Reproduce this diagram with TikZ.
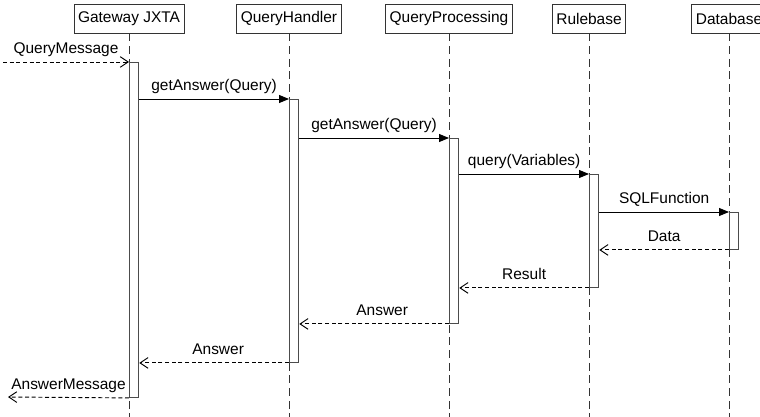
\documentclass[tikz,border=0pt]{standalone}
\usepackage{fontspec}
\setmainfont{Liberation Sans}
\usetikzlibrary{arrows.meta}
\begin{document}
\begin{tikzpicture}[x=0.75pt,y=-0.75pt,line width=0.7pt,font=\fontsize{11.6}{13}\selectfont,
 obj/.style={draw=black!80,fill=white,minimum height=21.75pt,inner xsep=3pt},
 life/.style={dash pattern=on 6pt off 3.5pt,black!80},
 act/.style={draw=black!70,fill=white,minimum width=7pt,minimum height=#1*0.75pt,inner sep=0pt,anchor=north west},
 call/.style={-{Triangle[length=7.5pt,width=6pt]}},
 ret/.style={dash pattern=on 3pt off 2pt,-{Straight Barb[length=6pt,width=8pt]}},
 lbl/.style={above=6pt,inner sep=0pt,text depth=0pt}]
 \useasboundingbox (0,0) rectangle (760,417);
 % objects and lifelines
 \node[obj] (gw) at (129,18.5) {Gateway JXTA};
 \node[obj] (qh) at (289,18.5) {QueryHandler};
 \node[obj] (qp) at (449,18.5) {QueryProcessing};
 \node[obj] (rb) at (589,18.5) {Rulebase};
 \node[obj] (db) at (729,18.5) {Database};
 \foreach \o in {gw,qh,qp,rb,db}
  \draw[life] (\o.south) -- (\o.south |- 0,417);
 % activations
 \node[act=335] (gwbar) at (129,62) {};
 \node[act=263] (qhbar) at (289,99) {};
 \node[act=185] (qpbar) at (449,138) {};
 \node[act=113] (rbbar) at (589,174) {};
 \node[act=37] (dbbar) at (729,212) {};
 % messages
 \coordinate (qmin) at (3,62);
 \coordinate (amout) at (8,397);
 \draw[ret] (qmin) -- node[lbl]{QueryMessage} (gwbar.north west);
 \draw[call] (gwbar.east |- qhbar.north) -- node[lbl]{getAnswer(Query)} (qhbar.north west);
 \draw[call] (qhbar.east |- qpbar.north) -- node[lbl]{getAnswer(Query)} (qpbar.north west);
 \draw[call] (qpbar.east |- rbbar.north) -- node[lbl]{query(Variables)} (rbbar.north west);
 \draw[call] (rbbar.east |- dbbar.north) -- node[lbl]{SQLFunction} (dbbar.north west);
 \draw[ret] (dbbar.south west) -- node[lbl]{Data} (rbbar.east |- dbbar.south);
 \draw[ret] (rbbar.south west) -- node[lbl]{Result} (qpbar.east |- rbbar.south);
 \draw[ret] (qpbar.south west) -- node[lbl,xshift=6pt]{Answer} (qhbar.east |- qpbar.south);
 \draw[ret] (qhbar.south west) -- node[lbl,xshift=3pt]{Answer} (gwbar.east |- qhbar.south);
 \draw[ret] (gwbar.south west) -- node[lbl]{AnswerMessage} (amout);
\end{tikzpicture}
\end{document}
